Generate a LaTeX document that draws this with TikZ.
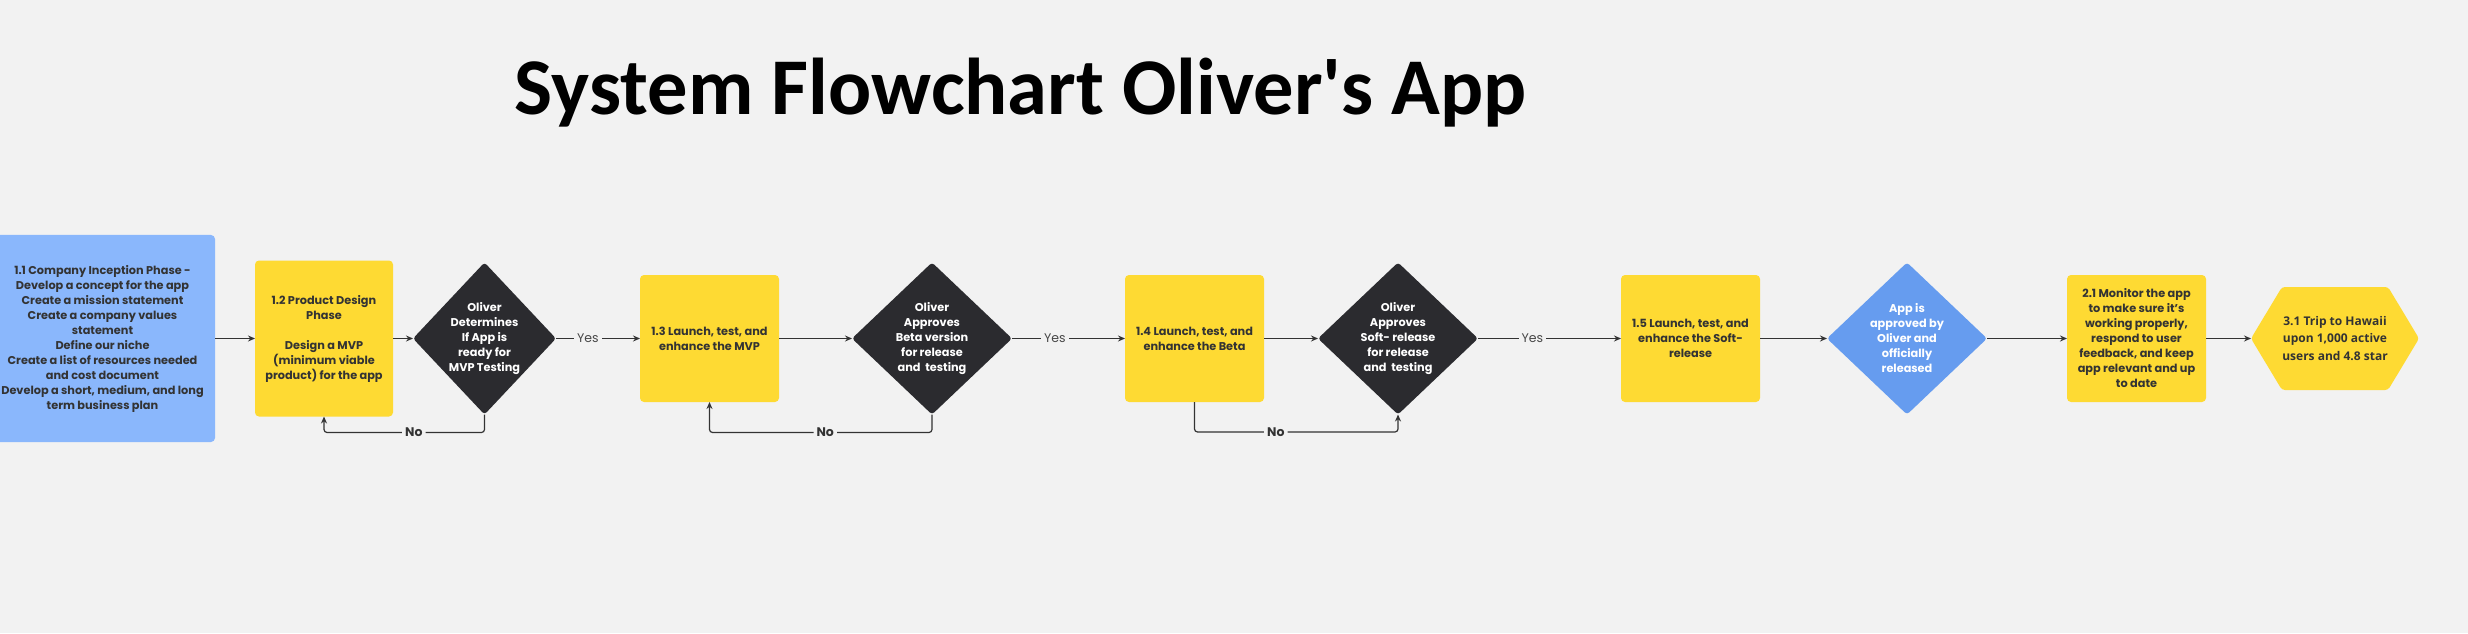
\documentclass[tikz,border=0pt]{standalone}
\usepackage{fontspec}
\setmainfont{Poppins}
\newfontfamily\titlefont{Carlito}
\newfontfamily\hexfont{Open Sans}
\usetikzlibrary{positioning,shapes.geometric,shapes.symbols,arrows.meta,calc}

\definecolor{canvas}{HTML}{F2F2F2}
\definecolor{skyblue}{HTML}{8AB7FC}
\definecolor{sunyellow}{HTML}{FEDA33}
\definecolor{nightgray}{HTML}{2B2B2F}
\definecolor{okblue}{HTML}{669CEF}
\definecolor{inkgray}{HTML}{333333}

\tikzset{
  card/.style={rectangle, rounded corners=4pt, fill=sunyellow, text=inkgray,
    font=\bfseries\fontsize{11.3}{15}\selectfont, align=center,
    inner sep=0pt, outer sep=0pt, minimum width=139pt, minimum height=127pt},
  choice/.style={diamond, rounded corners=3pt, fill=nightgray, text=white,
    font=\bfseries\fontsize{11.3}{15}\selectfont, align=center,
    inner sep=-20pt, outer sep=0pt, minimum width=160pt, minimum height=152pt},
  goal/.style={signal, signal to=west and east, signal pointer angle=118,
    rounded corners=3pt, fill=sunyellow, text=inkgray,
    font=\hexfont\bfseries\fontsize{12}{17.5}\selectfont, align=center,
    inner sep=0pt, outer sep=0pt, minimum width=168pt, minimum height=103pt},
  flow/.style={draw=inkgray, line width=1.2pt, -{Stealth[length=7pt,width=6pt]}},
  yes/.style={fill=canvas, text=inkgray!90, font=\fontsize{12.5}{14}\selectfont, inner sep=3pt},
  no/.style={fill=canvas, text=inkgray, font=\bfseries\fontsize{12.5}{14}\selectfont, inner sep=3pt},
}

\begin{document}
\begin{tikzpicture}[x=1pt,y=1pt]
 \fill[canvas] (0,0) rectangle (2468,633);
 \useasboundingbox (0,0) rectangle (2468,633);
 \node[anchor=base, font=\titlefont\bfseries\fontsize{80.5}{84}\selectfont] (title) at (1021,518) {System Flowchart Oliver's App};
 %
 \node[card, fill=skyblue, minimum width=225pt, minimum height=207pt] (inception) at (102.5,294.5)
   {1.1 Company Inception Phase -\\ Develop a concept for the app\\ Create a mission statement\\
    Create a company values\\ statement\\ Define our niche\\ Create a list of resources needed\\
    and cost document\\ Develop a short, medium, and long\\ term business plan};
 \node[card, minimum width=138pt, minimum height=156pt, right=40pt of inception] (design)
   {1.2 Product Design\\ Phase\\[15pt] Design a MVP\\ (minimum viable\\ product) for the app};
 \node[choice, minimum width=143pt, right=20pt of design] (mvpcheck)
   {Oliver\\ Determines\\ If App is\\ ready for\\ MVP Testing};
 \node[card, right=84pt of mvpcheck] (mvp) {1.3 Launch, test, and\\ enhance the MVP};
 \node[choice, right=73pt of mvp] (betacheck)
   {Oliver\\ Approves\\ Beta version\\ for release\\ and\ \ testing};
 \node[card, right=113pt of betacheck] (beta) {1.4 Launch, test, and\\ enhance the Beta};
 \node[choice, right=54pt of beta] (softcheck)
   {Oliver\\ Approves\\ Soft- release\\ for release\\ and\ \ testing};
 \node[card, right=143pt of softcheck] (soft) {1.5 Launch, test, and\\ enhance the Soft-\\ release};
 \node[choice, fill=okblue, right=67pt of soft] (released)
   {App is\\ approved by\\ Oliver and\\ officially\\ released};
 \node[card, right=80pt of released] (monitor)
   {2.1 Monitor the app\\ to make sure it's\\ working properly,\\ respond to user\\
    feedback, and keep\\ app relevant and up\\ to date};
 \node[goal, right=45pt of monitor] (hawaii) {3.1 Trip to Hawaii\\ upon 1,000 active\\ users and 4.8 star};
 %
 \draw[flow] (inception.east) -- (design.west);
 \draw[flow] (design.east) -- (mvpcheck.west);
 \draw[flow] (mvpcheck.east) -- node[yes, pos=0.38] {Yes} (mvp.west);
 \draw[flow] (mvp.east) -- (betacheck.west);
 \draw[flow] (betacheck.east) -- node[yes, pos=0.38] {Yes} (beta.west);
 \draw[flow] (beta.east) -- (softcheck.west);
 \draw[flow] (softcheck.east) -- node[yes, pos=0.38] {Yes} (soft.west);
 \draw[flow] (soft.east) -- (released.west);
 \draw[flow] (released.east) -- (monitor.west);
 \draw[flow] (monitor.east) -- (hawaii.west);
 % the No loops
 \draw[flow, rounded corners=3pt] (mvpcheck.south) -- ++(0,-18) -| node[no, pos=0.22] {No} (design.south);
 \draw[flow, rounded corners=3pt] (betacheck.south) -- ++(0,-18) -| node[no, pos=0.24] {No} (mvp.south);
 \draw[flow, rounded corners=3pt] (beta.south) -- ++(0,-30) -| node[no, pos=0.2] {No} (softcheck.south);
\end{tikzpicture}
\end{document}
